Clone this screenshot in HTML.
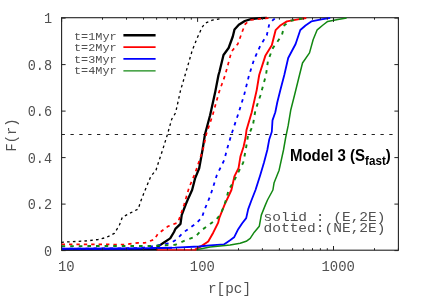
<!DOCTYPE html>
<html><head><meta charset="utf-8"><title>plot</title>
<style>
html,body{margin:0;padding:0;background:#fff;}
svg{display:block;will-change:transform;opacity:0.999;}
text{font-family:"Liberation Mono",monospace;fill:#505050;}
.b{font-family:"Liberation Sans",sans-serif;font-weight:bold;fill:#000;}
polyline{fill:none;stroke-linejoin:round;stroke-linecap:butt;}
</style></head><body>
<svg width="425" height="298" viewBox="0 0 425 298">
<rect width="425" height="298" fill="#fff"/>
<line x1="61.6" y1="134.5" x2="393" y2="134.5" stroke="#222" stroke-width="1" stroke-dasharray="3.3 5.557"/>
<rect x="61.6" y="17.7" width="336.8" height="232.5" fill="none" stroke="#222" stroke-width="1.1"/>
<polyline points="61.5,249.3 157.0,249.0 157.8,246.6 164.0,242.5 170.2,238.4 174.0,232.0 175.4,228.9 180.5,223.9 181.7,215.1 185.5,205.0 188.5,197.9 192.1,190.0 195.1,178.4 199.2,168.3 202.5,150.0 205.0,134.2 210.1,115.3 215.1,92.6 218.5,75.0 219.4,72.0 223.5,55.0 228.6,48.0 232.8,36.5 234.5,29.5 238.8,24.8 244.8,21.0 251.0,19.1 260.0,18.2 266.8,17.9" style="stroke:#000000;stroke-width:2.3"/>
<polyline points="61.3,242.3 87.8,240.8 98.1,239.5 106.2,237.5 114.3,233.4 119.3,225.4 122.3,217.3 123.5,216.5 138.2,209.0 140.7,201.3 144.5,191.6 150.8,176.4 156.0,170.2 157.6,165.0 162.6,150.0 167.5,134.2 171.8,119.0 175.6,112.8 180.6,90.1 186.0,72.0 192.1,50.8 197.1,38.2 202.2,27.1 205.2,23.1 212.3,20.2 222.0,18.5" style="stroke:#000000;stroke-width:1.3;stroke-dasharray:2.6 3.2"/>
<polyline points="156.5,249.9 196.5,249.9" style="stroke:#ff0000;stroke-width:1.3"/>
<polyline points="195.0,249.6 200.6,246.6 208.2,241.5 213.2,232.7 218.2,222.6 219.3,218.0 224.3,205.4 231.4,190.0 234.4,176.4 238.5,168.3 240.5,156.2 243.5,147.0 245.5,138.0 246.5,130.0 251.6,112.8 256.7,90.1 259.2,75.0 265.5,55.4 271.8,45.3 275.6,30.2 280.6,25.2 286.9,21.4 300.8,18.9 306.3,18.0" style="stroke:#ff0000;stroke-width:1.9"/>
<polyline points="61.6,244.4 125.6,244.5 138.2,242.8 145.2,242.8 154.3,239.5 157.8,234.0 167.9,226.4 177.9,222.6 180.5,215.1 184.0,205.0 189.0,187.8 195.3,172.7 202.9,150.0 206.3,134.2 212.6,115.3 218.9,92.6 225.2,75.0 231.5,51.6 237.8,44.0 242.8,30.2 245.3,24.0 250.4,20.0 263.0,18.4 270.5,18.0" style="stroke:#ff0000;stroke-width:1.7;stroke-dasharray:3.4 4"/>
<polyline points="61.6,248.8 120.0,248.6 150.0,248.3 172.0,247.7" style="stroke:#0000ff;stroke-width:2.1"/>
<polyline points="150.0,248.2 175.0,247.6 198.8,246.5 210.0,245.4 224.1,244.3 226.1,242.9 230.1,240.3 234.1,237.3 238.2,229.2 242.2,223.2 246.2,218.1 248.2,209.1 251.2,201.0 255.5,190.0 260.2,175.2 264.0,162.6 267.3,150.0 269.3,139.2 271.8,131.7 272.5,120.4 275.3,112.3 277.3,102.3 280.3,90.2 284.3,75.0 288.2,58.0 295.6,44.0 300.3,30.0 305.5,25.5 311.3,21.4 321.4,19.4 330.2,17.9" style="stroke:#0000ff;stroke-width:1.8"/>
<polyline points="61.6,248.7 140.0,248.2 152.0,246.3 162.4,244.6 170.8,242.8 176.5,239.6 183.0,232.7 195.6,223.9 201.9,217.6 204.2,210.5 210.5,195.3 216.8,175.2 224.3,160.0 226.8,150.0 231.5,134.2 237.8,115.3 244.1,95.2 249.1,75.0 254.2,59.2 260.5,45.3 266.8,35.3 269.3,24.0 273.0,20.0 275.6,18.0" style="stroke:#0000ff;stroke-width:1.8;stroke-dasharray:3.4 4.6"/>
<polyline points="196.5,249.8 210.0,246.9 230.1,244.9 240.2,243.3 246.2,241.3 250.2,238.3 254.3,232.2 259.3,226.2 261.3,215.1 265.3,205.1 267.5,200.0 272.9,190.0 274.1,182.7 279.1,170.2 283.5,150.0 285.6,138.0 288.2,125.4 290.7,110.3 294.5,95.2 299.5,75.0 302.5,63.0 309.5,52.9 313.2,39.5 317.2,29.8 323.0,25.0 327.7,21.4 337.8,19.6 346.6,17.9" style="stroke:#128812;stroke-width:1.5"/>
<polyline points="61.6,246.1 150.0,246.0 175.4,244.8 185.5,240.3 195.6,236.5 201.4,230.3 208.5,225.3 216.5,219.2 220.6,214.2 224.0,206.0 226.6,198.0 228.6,190.0 234.4,180.2 243.2,162.6 245.7,150.0 247.9,136.7 252.9,125.4 255.4,110.3 260.5,95.2 266.0,75.0 268.0,60.5 273.0,47.9 281.9,35.3 284.4,25.2 290.7,20.7 300.8,18.9 306.0,18.0" style="stroke:#128812;stroke-width:1.9;stroke-dasharray:3.6 5"/>
<path d="M61.6 250.6h4M398.4 250.6h-4M61.6 204.1h4M398.4 204.1h-4M61.6 157.6h4M398.4 157.6h-4M61.6 111.1h4M398.4 111.1h-4M61.6 64.6h4M398.4 64.6h-4M61.6 18.1h4M398.4 18.1h-4M61.6 250.2v-4.2M61.6 17.7v4.2M102.5 250.2v-2.0M102.5 17.7v2.0M126.5 250.2v-2.0M126.5 17.7v2.0M143.5 250.2v-2.0M143.5 17.7v2.0M156.6 250.2v-2.0M156.6 17.7v2.0M167.4 250.2v-2.0M167.4 17.7v2.0M176.5 250.2v-2.0M176.5 17.7v2.0M184.4 250.2v-2.0M184.4 17.7v2.0M191.3 250.2v-2.0M191.3 17.7v2.0M197.6 250.2v-4.2M197.6 17.7v4.2M238.5 250.2v-2.0M238.5 17.7v2.0M262.4 250.2v-2.0M262.4 17.7v2.0M279.4 250.2v-2.0M279.4 17.7v2.0M292.6 250.2v-2.0M292.6 17.7v2.0M303.4 250.2v-2.0M303.4 17.7v2.0M312.5 250.2v-2.0M312.5 17.7v2.0M320.4 250.2v-2.0M320.4 17.7v2.0M327.3 250.2v-2.0M327.3 17.7v2.0M333.5 250.2v-4.2M333.5 17.7v4.2M374.5 250.2v-2.0M374.5 17.7v2.0M398.4 250.2v-2.0M398.4 17.7v2.0" stroke="#222" stroke-width="1" fill="none"/>
<text x="52" y="255.5" font-size="13.8" text-anchor="end" textLength="8.1" lengthAdjust="spacingAndGlyphs">0</text>
<text x="52" y="209.0" font-size="13.8" text-anchor="end" textLength="24.3" lengthAdjust="spacingAndGlyphs">0.2</text>
<text x="52" y="162.5" font-size="13.8" text-anchor="end" textLength="24.3" lengthAdjust="spacingAndGlyphs">0.4</text>
<text x="52" y="116.0" font-size="13.8" text-anchor="end" textLength="24.3" lengthAdjust="spacingAndGlyphs">0.6</text>
<text x="52" y="69.5" font-size="13.8" text-anchor="end" textLength="24.3" lengthAdjust="spacingAndGlyphs">0.8</text>
<text x="52" y="23.0" font-size="13.8" text-anchor="end" textLength="8.1" lengthAdjust="spacingAndGlyphs">1</text>
<text x="66.3" y="270.8" font-size="13.8" text-anchor="middle" textLength="16.7" lengthAdjust="spacingAndGlyphs">10</text>
<text x="202.3" y="270.8" font-size="13.8" text-anchor="middle" textLength="25.0" lengthAdjust="spacingAndGlyphs">100</text>
<text x="338.2" y="270.8" font-size="13.8" text-anchor="middle" textLength="33.4" lengthAdjust="spacingAndGlyphs">1000</text>
<text x="229.5" y="293" font-size="13.8" text-anchor="middle" textLength="43" lengthAdjust="spacingAndGlyphs">r[pc]</text>
<text transform="translate(15.9,135) rotate(-90)" font-size="13.8" text-anchor="middle" textLength="33" lengthAdjust="spacingAndGlyphs">F(r)</text>
<text x="74" y="39.6" font-size="10.8" textLength="42.6" lengthAdjust="spacingAndGlyphs">t=1Myr</text>
<line x1="123.4" y1="35.3" x2="155.6" y2="35.3" stroke="#000000" stroke-width="2.4"/>
<text x="74" y="51.0" font-size="10.8" textLength="42.6" lengthAdjust="spacingAndGlyphs">t=2Myr</text>
<line x1="123.4" y1="47.2" x2="155.6" y2="47.2" stroke="#ff0000" stroke-width="1.8"/>
<text x="74" y="62.8" font-size="10.8" textLength="42.6" lengthAdjust="spacingAndGlyphs">t=3Myr</text>
<line x1="123.4" y1="58.9" x2="155.6" y2="58.9" stroke="#0000ff" stroke-width="1.7"/>
<text x="74" y="74.4" font-size="10.8" textLength="42.6" lengthAdjust="spacingAndGlyphs">t=4Myr</text>
<line x1="123.4" y1="70.8" x2="155.6" y2="70.8" stroke="#128812" stroke-width="1.2"/>
<text x="263.5" y="220.6" font-size="12.4" textLength="122" lengthAdjust="spacingAndGlyphs" xml:space="preserve">solid : (E,2E)</text>
<text x="263.5" y="232.2" font-size="12.4" textLength="122" lengthAdjust="spacingAndGlyphs" xml:space="preserve">dotted:(NE,2E)</text>
<text class="b" transform="translate(289.9,160.8) scale(0.94,1)" font-size="16">Model 3 (S<tspan font-size="12.4" dy="3.9">fast</tspan><tspan font-size="16" dy="-3.9">)</tspan></text>
</svg></body></html>
